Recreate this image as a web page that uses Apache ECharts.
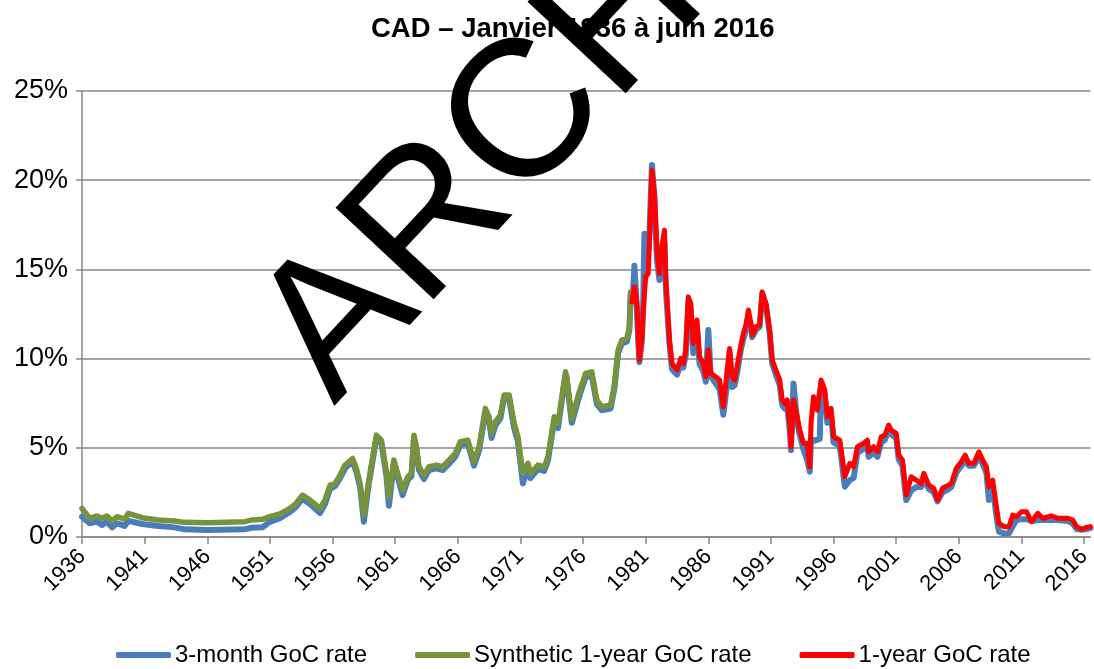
<!DOCTYPE html>
<html>
<head>
<meta charset="utf-8">
<script src="https://cdn.jsdelivr.net/npm/echarts@6/dist/echarts.min.js"></script>
<style>
  html, body { margin: 0; padding: 0; background: #fff; }
  #chart { width: 1094px; height: 669px; }
</style>
</head>
<body>
<div id="chart"></div>
<script>
// titre + noms des séries
const chartTitle = 'CAD – Janvier 1936 à juin 2016'
const seriesNames = ['3-month GoC rate', 'Synthetic 1-year GoC rate', '1-year GoC rate']
const watermark = 'ARCHIVE'

// [année, taux %]
const threeMonth = [
  [1936.0,1.14],[1936.6,0.77],[1937.2,0.86],[1937.6,0.67],[1938.0,0.86],[1938.4,0.54],[1938.8,0.77],[1939.4,0.62],
  [1939.7,0.9],[1940.8,0.73],[1942.1,0.62],[1943.4,0.54],[1944.2,0.43],[1946.0,0.39],[1949.0,0.43],[1949.5,0.52],
  [1950.4,0.54],[1951.0,0.85],[1951.8,1.05],[1952.6,1.4],[1953.1,1.7],[1953.6,2.15],[1954.2,1.85],[1955.0,1.35],
  [1955.4,1.85],[1955.8,2.7],[1956.2,2.85],[1956.6,3.3],[1957.0,3.85],[1957.6,4.25],[1957.9,3.65],[1958.2,2.8],
  [1958.5,0.86],[1958.9,3.0],[1959.5,5.55],[1959.9,5.25],[1960.3,3.45],[1960.5,1.75],[1960.9,4.15],[1961.2,3.35],
  [1961.6,2.35],[1962.0,3.2],[1962.3,3.4],[1962.5,5.5],[1962.7,4.85],[1962.9,3.75],[1963.3,3.25],[1963.7,3.75],
  [1964.3,3.85],[1964.8,3.75],[1965.3,4.1],[1965.8,4.5],[1966.2,5.15],[1966.8,5.25],[1967.3,4.0],[1967.7,4.85],
  [1968.2,7.0],[1968.5,6.5],[1968.7,5.55],[1969.0,6.25],[1969.4,6.65],[1969.7,7.8],[1970.1,7.75],[1970.5,6.1],
  [1970.8,5.35],[1971.2,3.0],[1971.6,3.9],[1971.8,3.3],[1972.4,3.8],[1972.9,3.7],[1973.2,4.3],[1973.7,6.5],
  [1974.0,6.1],[1974.6,9.1],[1974.7,8.8],[1975.1,6.4],[1975.7,7.9],[1976.2,8.95],[1976.7,9.05],[1977.1,7.45],
  [1977.5,7.1],[1978.2,7.2],[1978.5,8.3],[1978.8,10.3],[1979.1,10.85],[1979.5,10.95],[1979.7,11.6],[1979.8,13.6],
  [1979.95,13.2],[1980.1,15.2],[1980.25,13.5],[1980.4,11.0],[1980.5,9.8],[1980.7,11.0],[1980.8,13.0],[1980.9,17.0],
  [1981.1,15.0],[1981.3,17.0],[1981.5,20.85],[1981.7,19.0],[1981.9,15.5],[1982.1,14.4],[1982.2,15.3],[1982.5,16.5],
  [1982.6,14.0],[1982.9,10.8],[1983.1,9.4],[1983.5,9.1],[1983.8,9.7],[1984.0,9.5],[1984.2,10.2],[1984.4,13.1],
  [1984.6,12.7],[1984.8,10.3],[1985.1,11.7],[1985.3,9.7],[1985.6,9.3],[1985.8,8.7],[1986.0,11.6],[1986.2,9.0],
  [1986.6,8.6],[1986.9,8.3],[1987.2,6.85],[1987.5,8.6],[1987.7,10.3],[1987.9,8.4],[1988.1,8.5],[1988.3,9.2],
  [1988.6,10.5],[1988.8,11.1],[1989.0,11.6],[1989.2,12.4],[1989.4,11.8],[1989.5,11.2],[1989.8,11.6],[1990.1,11.8],
  [1990.3,13.6],[1990.6,13.0],[1990.9,11.4],[1991.1,9.7],[1991.5,8.9],[1991.7,8.5],[1991.9,7.4],[1992.1,7.2],
  [1992.3,7.3],[1992.5,6.0],[1992.6,4.87],[1992.8,8.6],[1993.1,6.4],[1993.3,5.7],[1993.6,4.9],[1993.9,4.3],
  [1994.1,3.66],[1994.2,5.5],[1994.5,5.4],[1994.9,5.5],[1995.0,8.5],[1995.3,7.9],[1995.5,6.4],[1995.8,6.9],
  [1996.0,5.3],[1996.5,5.1],[1996.9,2.82],[1997.3,3.2],[1997.6,3.3],[1997.9,4.7],[1998.4,4.95],[1998.7,5.15],
  [1998.8,4.5],[1999.2,4.75],[1999.5,4.5],[1999.8,5.3],[2000.1,5.45],[2000.4,6.0],[2000.6,5.75],[2001.0,5.55],
  [2001.2,4.35],[2001.5,4.0],[2001.8,2.07],[2002.2,2.6],[2002.6,2.8],[2003.0,2.8],[2003.2,3.3],[2003.6,2.7],
  [2004.0,2.5],[2004.3,2.0],[2004.7,2.5],[2005.2,2.7],[2005.4,2.8],[2005.8,3.6],[2006.2,4.0],[2006.5,4.3],
  [2006.8,4.0],[2007.2,4.0],[2007.6,4.5],[2007.9,4.1],[2008.2,3.6],[2008.4,2.07],[2008.7,2.8],[2009.0,1.2],
  [2009.2,0.3],[2009.6,0.2],[2010.0,0.2],[2010.3,0.6],[2010.6,0.95],[2011.0,1.0],[2011.4,1.0],[2011.8,0.9],
  [2012.3,0.95],[2012.7,0.95],[2013.4,0.95],[2013.9,0.95],[2014.7,0.9],[2015.1,0.75],[2015.4,0.45],[2015.8,0.4],
  [2016.2,0.45],[2016.5,0.5]
]

const synthetic = [
  [1936.0,1.6],[1936.6,1.05],[1937.2,1.18],[1937.6,1.05],[1938.0,1.18],[1938.4,0.9],[1938.8,1.14],[1939.4,1.0],
  [1939.7,1.33],[1940.8,1.08],[1942.1,0.95],[1943.4,0.9],[1944.2,0.82],[1946.0,0.8],[1949.0,0.86],[1949.5,0.95],
  [1950.4,0.99],[1951.0,1.14],[1951.8,1.29],[1952.6,1.6],[1953.1,1.89],[1953.6,2.35],[1954.2,2.07],[1955.0,1.6],
  [1955.4,2.07],[1955.8,2.91],[1956.2,3.0],[1956.6,3.47],[1957.0,4.03],[1957.6,4.4],[1957.9,3.85],[1958.2,3.0],
  [1958.5,1.23],[1958.9,3.19],[1959.5,5.71],[1959.9,5.43],[1960.3,3.66],[1960.5,2.26],[1960.9,4.31],[1961.2,3.57],
  [1961.6,2.63],[1962.0,3.38],[1962.3,3.57],[1962.5,5.71],[1962.7,5.06],[1962.9,3.94],[1963.3,3.47],[1963.7,3.94],
  [1964.3,4.03],[1964.8,3.94],[1965.3,4.31],[1965.8,4.69],[1966.2,5.34],[1966.8,5.43],[1967.3,4.22],[1967.7,5.06],
  [1968.2,7.21],[1968.5,6.74],[1968.7,5.81],[1969.0,6.46],[1969.4,6.83],[1969.7,7.96],[1970.1,7.96],[1970.5,6.37],
  [1970.8,5.62],[1971.2,3.57],[1971.6,4.13],[1971.8,3.57],[1972.4,4.03],[1972.9,3.94],[1973.2,4.5],[1973.7,6.74],
  [1974.0,6.37],[1974.6,9.26],[1974.7,8.98],[1975.1,6.65],[1975.7,8.14],[1976.2,9.17],[1976.7,9.26],[1977.1,7.68],
  [1977.5,7.3],[1978.2,7.4],[1978.5,8.52],[1978.8,10.48],[1979.1,11.04],[1979.5,11.13],[1979.7,11.78],[1979.8,13.74],
  [1979.9,13.56]
]

const oneYear = [
  [1979.9,13.18],[1980.1,14.02],[1980.3,13.09],[1980.5,9.92],[1980.7,11.22],[1980.8,12.53],[1981.0,14.58],[1981.2,14.77],
  [1981.3,16.45],[1981.5,20.56],[1981.7,19.26],[1981.9,16.08],[1982.1,14.77],[1982.2,15.89],[1982.5,17.2],[1982.6,14.58],
  [1982.9,11.04],[1983.1,9.73],[1983.5,9.36],[1983.8,10.01],[1984.0,9.73],[1984.2,10.48],[1984.4,13.46],[1984.6,13.09],
  [1984.8,10.85],[1985.1,12.16],[1985.3,10.1],[1985.6,9.73],[1985.8,8.98],[1986.0,10.48],[1986.2,9.17],[1986.6,8.98],
  [1986.9,8.8],[1987.2,7.3],[1987.5,9.36],[1987.7,10.57],[1987.9,8.98],[1988.1,8.8],[1988.3,9.54],[1988.6,10.76],
  [1988.8,11.41],[1989.0,11.88],[1989.2,12.72],[1989.4,11.97],[1989.5,11.32],[1989.8,11.78],[1990.1,11.88],[1990.3,13.74],
  [1990.6,13.09],[1990.9,11.6],[1991.1,9.92],[1991.5,9.17],[1991.7,8.8],[1991.9,7.68],[1992.1,7.49],[1992.3,7.68],
  [1992.5,6.37],[1992.6,5.06],[1992.8,7.68],[1993.1,6.74],[1993.3,5.99],[1993.6,5.25],[1993.9,5.25],[1994.1,3.94],
  [1994.2,6.37],[1994.4,7.86],[1994.7,7.11],[1995.0,8.8],[1995.3,8.24],[1995.5,6.74],[1995.8,7.21],[1996.0,5.62],
  [1996.5,5.43],[1996.9,3.38],[1997.3,4.13],[1997.6,3.94],[1997.9,5.06],[1998.4,5.25],[1998.7,5.43],[1998.8,4.78],
  [1999.2,5.06],[1999.5,4.78],[1999.8,5.62],[2000.1,5.71],[2000.4,6.27],[2000.6,5.99],[2001.0,5.81],[2001.2,4.59],
  [2001.5,4.31],[2001.8,2.35],[2002.2,3.38],[2002.6,3.19],[2003.0,3.0],[2003.2,3.57],[2003.6,2.91],[2004.0,2.73],
  [2004.3,2.07],[2004.7,2.73],[2005.2,2.91],[2005.4,3.0],[2005.8,3.85],[2006.2,4.22],[2006.5,4.59],[2006.8,4.13],
  [2007.2,4.13],[2007.6,4.78],[2007.9,4.31],[2008.2,3.94],[2008.4,2.82],[2008.7,3.19],[2009.0,1.7],[2009.2,0.77],
  [2009.6,0.58],[2010.0,0.58],[2010.3,1.23],[2010.6,1.14],[2011.0,1.42],[2011.4,1.42],[2011.8,0.86],[2012.3,1.33],
  [2012.7,1.05],[2013.4,1.18],[2013.9,1.05],[2014.7,1.05],[2015.1,0.95],[2015.4,0.58],[2015.8,0.43],[2016.2,0.54],
  [2016.5,0.58]
]

const font = '"Liberation Sans", Arial, sans-serif'
const chart = echarts.init(document.getElementById('chart'))

const line = (name, data, color, width) => ({
  name, type: 'line', data, symbol: 'none', animation: false,
  lineStyle: { color, width, cap: 'round', join: 'round' },
  itemStyle: { color }
})

chart.setOption({
  backgroundColor: '#fff',
  textStyle: { fontFamily: font },
  title: {
    text: chartTitle, left: 366, top: 10,
    textStyle: { fontFamily: font, fontSize: 27.5, fontWeight: 'bold', color: '#000' }
  },
  grid: { left: 82, right: 1, top: 91, bottom: 132 },
  legend: {
    top: 638, left: 111, itemWidth: 55, itemHeight: 6, itemGap: 48,
    icon: 'roundRect',
    textStyle: { fontFamily: font, fontSize: 24, color: '#000', padding: [0, 0, 0, -1] },
    data: seriesNames
  },
  xAxis: {
    type: 'value', min: 1936, max: 2016.5, interval: 5,
    axisLine: { lineStyle: { color: '#868686', width: 1.5 } },
    axisTick: { length: 7, lineStyle: { color: '#868686', width: 1.5 } },
    splitLine: { show: false },
    axisLabel: {
      rotate: 45, fontSize: 22, color: '#000', margin: 16, showMaxLabel: false,
      formatter: v => String(v)
    }
  },
  yAxis: {
    type: 'value', min: 0, max: 25, interval: 5,
    axisLine: { show: true, lineStyle: { color: '#868686', width: 1.5 } },
    axisTick: { show: true, length: 6, lineStyle: { color: '#868686', width: 1.5 } },
    splitLine: { lineStyle: { color: '#868686', width: 1.5 } },
    axisLabel: { fontSize: 27, color: '#000', margin: 14, formatter: '{value}%' }
  },
  series: [
    line(seriesNames[0], threeMonth, '#4A7EBB', 6),
    line(seriesNames[1], synthetic, '#77933C', 5.5),
    line(seriesNames[2], oneYear, '#FF0000', 5)
  ],
  graphic: [{
    type: 'text', x: 366, y: 436, rotation: 47 * Math.PI / 180, z: 100,
    style: { text: watermark, font: '195px "Liberation Sans"', fill: '#000', align: 'left', verticalAlign: 'bottom' }
  }]
})
</script>
</body>
</html>
